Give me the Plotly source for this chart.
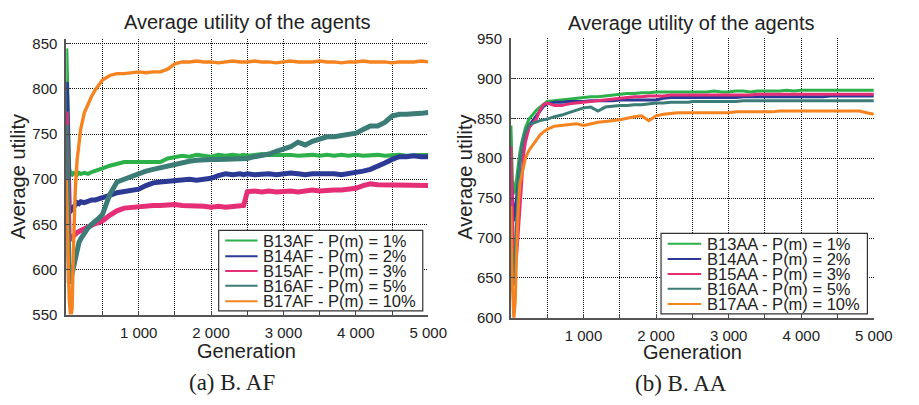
import plotly.graph_objects as go

W, H = 919, 405

# Generation sample points shared by every series
GEN = [0, 20, 40, 60, 80, 100, 125, 150, 175, 200, 250, 300, 350, 400, 450, 500,
       600, 700, 800, 900, 1000, 1100, 1200, 1300, 1400, 1500, 1600, 1700, 1800, 1900,
       2000, 2100, 2200, 2300, 2400, 2450,
       2500, 2600, 2700, 2800, 2900, 3000, 3100, 3200, 3300, 3400, 3500, 3600, 3700, 3800,
       3900, 4000, 4100, 4200, 4300, 4400, 4500, 4600, 4700, 4800, 4900, 5000]

# ---- (a) B. AF ----
B13AF = [845, 780, 712, 706, 705, 707, 706, 705, 707, 706, 707, 706, 708, 709, 711, 712,
         715, 717, 719, 719, 719, 720, 720, 719, 723, 725, 726, 725, 727, 726, 725, 727, 726, 727, 726, 727,
         726, 727, 728, 727, 727, 728, 727, 726, 727, 727, 726, 727, 726, 727, 726, 727, 726, 727, 727, 726,
         727, 727, 726, 727, 727, 727]
B14AF = [808, 720, 668, 665, 667, 670, 672, 674, 673, 675, 674, 676, 677, 677, 678, 679,
         682, 685, 686, 688, 689, 693, 696, 697, 698, 699, 699, 700, 699, 700, 701, 704, 706, 705, 706, 705,
         706, 705, 706, 706, 705, 706, 707, 706, 705, 706, 706, 707, 706, 705, 706, 707, 709, 711, 714, 718,
         722, 725, 725, 726, 725, 725]
B15AF = [775, 690, 636, 634, 636, 638, 639, 641, 642, 643, 645, 648, 650, 651, 652, 654,
         660, 665, 668, 669, 670, 670, 671, 671, 672, 672, 671, 671, 670, 670, 669, 670, 669, 670, 670, 671,
         686, 687, 686, 687, 686, 687, 687, 686, 687, 688, 687, 688, 688, 688, 689, 690, 693, 695, 694, 694,
         694, 693, 694, 694, 693, 693]
B16AF = [760, 640, 585, 588, 596, 605, 616, 626, 630, 634, 641, 646, 650, 653, 657, 661,
         683, 697, 700, 704, 707, 709, 711, 713, 714, 716, 718, 720, 721, 722, 722, 722, 722, 722, 723, 723,
         723, 725, 726, 728, 731, 733, 736, 741, 738, 742, 745, 747, 747, 748, 749, 751, 755, 759, 759, 763,
         770, 772, 772, 772, 773, 774]
B17AF = [700, 620, 568, 547, 556, 628, 690, 722, 742, 756, 774, 784, 792, 799, 805, 810,
         815, 817, 817, 818, 819, 818, 819, 819, 822, 828, 830, 830, 831, 830, 830, 829, 830, 831, 830, 830,
         830, 831, 830, 830, 829, 830, 831, 830, 830, 830, 831, 830, 830, 829, 830, 830, 831, 830, 830, 830,
         829, 830, 830, 830, 831, 830]

# ---- (b) B. AA ----
B13AA = [841, 775, 755, 762, 776, 792, 808, 820, 831, 838, 849, 855, 860, 864, 868, 871,
         872, 873, 874, 875, 876, 877, 877, 878, 879, 880, 881, 881, 882, 882, 883, 883, 883, 883, 883, 883,
         883, 883, 883, 884, 883, 883, 884, 884, 883, 884, 884, 884, 884, 885, 884, 885, 885, 885, 885, 885,
         885, 885, 885, 885, 885, 885]
B14AA = [785, 745, 721, 735, 750, 770, 795, 810, 822, 830, 841, 847, 853, 860, 865, 868,
         870, 870, 871, 871, 871, 872, 872, 872, 872, 873, 873, 873, 873, 873, 873, 875, 876, 876, 876, 876,
         876, 876, 876, 876, 876, 876, 876, 877, 877, 877, 877, 877, 877, 877, 877, 877, 877, 877, 877, 878,
         878, 878, 878, 878, 878, 878]
B15AA = [815, 735, 670, 672, 680, 705, 740, 778, 805, 820, 838, 844, 849, 860, 867, 869,
         866, 866, 868, 869, 870, 871, 872, 873, 874, 875, 876, 877, 877, 878, 878, 878, 879, 879, 879, 879,
         879, 879, 879, 879, 879, 879, 879, 879, 879, 880, 880, 880, 880, 880, 880, 880, 880, 880, 880, 880,
         880, 880, 880, 880, 880, 880]
B16AA = [705, 665, 640, 680, 730, 765, 795, 815, 826, 833, 842, 844, 846, 847, 848, 849,
         852, 854, 857, 860, 863, 864, 859, 864, 865, 866, 866, 867, 867, 868, 869, 869, 870, 870, 870, 870,
         871, 871, 871, 871, 871, 871, 871, 872, 872, 872, 872, 872, 872, 872, 872, 872, 872, 872, 872, 872,
         872, 872, 872, 872, 872, 872]
B17AA = [740, 640, 598, 620, 685, 735, 768, 780, 790, 800, 810, 816, 822, 829, 833, 836,
         840, 841, 842, 843, 841, 843, 845, 846, 847, 848, 850, 852, 853, 847, 853, 855, 856, 857, 857, 857,
         857, 857, 857, 857, 857, 857, 858, 858, 858, 858, 858, 858, 859, 859, 859, 859, 859, 859, 859, 859,
         859, 859, 859, 859, 857, 855]

NAMES_AF = ["B13AF - P(m) = 1%", "B14AF - P(m) = 2%", "B15AF - P(m) = 3%",
            "B16AF - P(m) = 5%", "B17AF - P(m) = 10%"]
NAMES_AA = ["B13AA - P(m) = 1%", "B14AA - P(m) = 2%", "B15AA - P(m) = 3%",
            "B16AA - P(m) = 5%", "B17AA - P(m) = 10%"]
SERIES_AF = [B13AF, B14AF, B15AF, B16AF, B17AF]
SERIES_AA = [B13AA, B14AA, B15AA, B16AA, B17AA]
COLORS = ["#2bb04a", "#2c3a96", "#e62e76", "#3b7c77", "#f5831f"]
# the AF runs are noisier, so their traces are drawn as wider bands
WIDTH_AF = [4.0, 5.0, 5.0, 5.0, 3.4]
WIDTH_AA = [3.0, 3.0, 3.0, 3.0, 3.0]

X_TICKS = [500, 1000, 1500, 2000, 2500, 3000, 3500, 4000, 4500, 5000]
X_TEXT = ["", "1 000", "", "2 000", "", "3 000", "", "4 000", "", "5 000"]
Y_TICKS_AF = [550, 600, 650, 700, 750, 800, 850]
Y_TICKS_AA = [600, 650, 700, 750, 800, 850, 900, 950]

SANS = "Liberation Sans, Arial, sans-serif"
SERIF = "Liberation Serif, Times New Roman, serif"
INK = "#222222"


def px(x):
    return x / W


def py(y):
    return 1 - y / H


fig = go.Figure()
for vals, name, col, w in zip(SERIES_AF, NAMES_AF, COLORS, WIDTH_AF):
    fig.add_trace(go.Scatter(x=GEN, y=vals, mode="lines", name=name,
                             line=dict(color=col, width=w), xaxis="x", yaxis="y",
                             showlegend=False))
for vals, name, col, w in zip(SERIES_AA, NAMES_AA, COLORS, WIDTH_AA):
    fig.add_trace(go.Scatter(x=GEN, y=vals, mode="lines", name=name,
                             line=dict(color=col, width=w), xaxis="x2", yaxis="y2",
                             showlegend=False))

axis_style = dict(showgrid=True, gridcolor="#111111", gridwidth=1, griddash="1px,1px",
                  showline=True, linecolor="#555555", linewidth=1.8, ticks="inside", ticklen=4,
                  tickcolor="#444444", tickfont=dict(family=SANS, size=15, color=INK),
                  zeroline=False, fixedrange=True)

fig.update_layout(
    width=W, height=H, margin=dict(l=0, r=0, t=0, b=0),
    paper_bgcolor="white", plot_bgcolor="white", showlegend=False,
    xaxis=dict(domain=[px(67.7), px(437.3)], range=[0, 5000], anchor="y",
               tickmode="array", tickvals=X_TICKS, ticktext=X_TEXT, ticklabelstandoff=3,
               **axis_style),
    yaxis=dict(domain=[py(319), py(31.7)], range=[550, 855], anchor="x",
               tickmode="array", tickvals=Y_TICKS_AF, ticklabelstandoff=4, **axis_style),
    xaxis2=dict(domain=[px(521.7), px(892.3)], range=[0, 5000], anchor="y2",
                tickmode="array", tickvals=X_TICKS, ticktext=X_TEXT, ticklabelstandoff=3,
                **axis_style),
    yaxis2=dict(domain=[py(322.4), py(30.7)], range=[600, 950], anchor="x2",
                tickmode="array", tickvals=Y_TICKS_AA, ticklabelstandoff=4, **axis_style),
)

ann = []
shapes = []


def text(x, y, s, size, family=SANS, angle=0, xanchor="center"):
    ann.append(dict(x=px(x), y=py(y), xref="paper", yref="paper", text=s, showarrow=False,
                    xanchor=xanchor, yanchor="middle", textangle=angle,
                    font=dict(family=family, size=size, color=INK)))


# titles, axis titles and sub-captions
text(252, 14, "Average utility of the agents", 20)
text(706, 15, "Average utility of the agents", 20)
text(252, 357, "Generation", 20)
text(707, 358, "Generation", 20)
text(18, 175, "Average utility", 20, angle=-90)
text(474, 176, "Average utility", 20, angle=-90)
text(237, 390, "(a) B. AF", 23, family=SERIF)
text(695, 391, "(b) B. AA", 23, family=SERIF)


def legend_box(x0, x1, y0, y1, rows, names, line_x0, line_x1, text_x):
    shapes.append(dict(type="rect", xref="paper", yref="paper", x0=px(x0), x1=px(x1),
                       y0=py(y1), y1=py(y0), line=dict(color="#333333", width=1.2),
                       fillcolor="white", layer="above"))
    for yy, name, col in zip(rows, names, COLORS):
        shapes.append(dict(type="line", xref="paper", yref="paper", x0=px(line_x0),
                           x1=px(line_x1), y0=py(yy), y1=py(yy),
                           line=dict(color=col, width=2), layer="above"))
        text(text_x, yy, name, 16.5, xanchor="left")


legend_box(223.3, 431.7, 231, 315, [241.7, 258, 273.5, 289, 305], NAMES_AF, 230, 263, 267)
legend_box(675, 885.7, 234.3, 318.3, [245, 261, 276.5, 292, 308], NAMES_AA, 681.7, 716, 720)

fig.update_layout(annotations=ann, shapes=shapes)
fig.write_html("out.html")
